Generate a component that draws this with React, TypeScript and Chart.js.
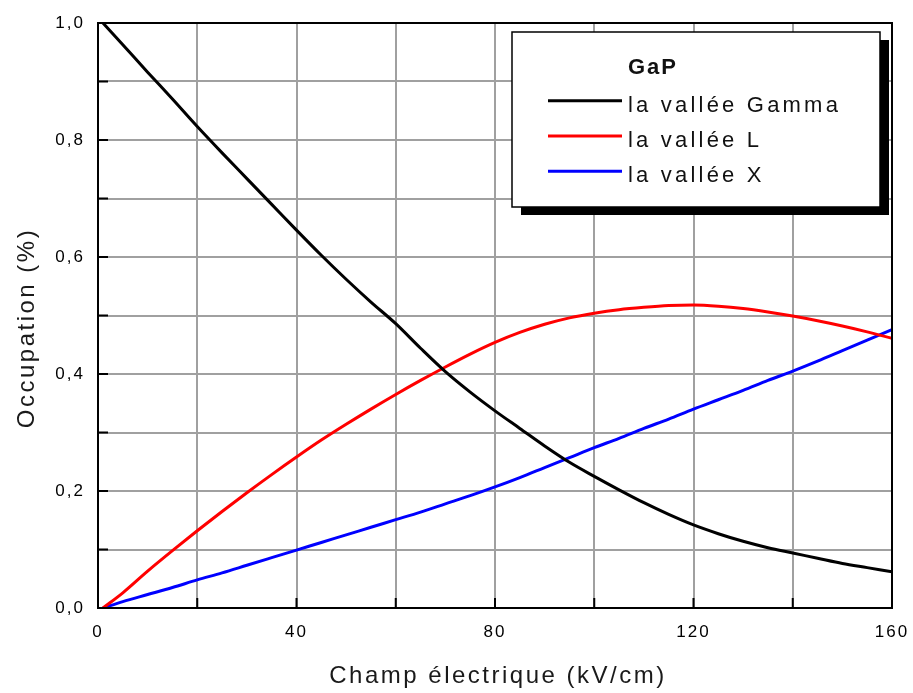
import React, { useEffect, useRef } from 'react';
import { Chart, registerables } from 'chart.js';

Chart.register(...registerables);

// ---- data ----
const fieldKV = [1, 5, 10, 15, 20, 25, 30, 35, 40, 45, 50, 55, 60, 65, 70, 75, 80, 85, 90, 95, 100, 105, 110, 115, 120, 125, 130, 135, 140, 145, 150, 155, 160];
const gammaValley = [1.0, 0.963, 0.916, 0.87, 0.823, 0.778, 0.734, 0.69, 0.646, 0.603, 0.562, 0.523, 0.486, 0.444, 0.404, 0.369, 0.337, 0.307, 0.277, 0.249, 0.225, 0.202, 0.18, 0.16, 0.142, 0.127, 0.114, 0.103, 0.094, 0.085, 0.076, 0.069, 0.062];
const lValley = [0, 0.026, 0.063, 0.098, 0.132, 0.165, 0.197, 0.228, 0.258, 0.287, 0.314, 0.34, 0.365, 0.389, 0.412, 0.434, 0.454, 0.471, 0.485, 0.496, 0.504, 0.51, 0.514, 0.517, 0.518, 0.516, 0.512, 0.506, 0.499, 0.491, 0.482, 0.472, 0.461];
const xValley = [0, 0.011, 0.023, 0.035, 0.048, 0.06, 0.073, 0.086, 0.099, 0.112, 0.125, 0.138, 0.151, 0.164, 0.178, 0.192, 0.207, 0.223, 0.24, 0.257, 0.274, 0.29, 0.307, 0.323, 0.34, 0.356, 0.372, 0.389, 0.405, 0.422, 0.44, 0.458, 0.476];

const seriesNames = ['la vallée Gamma', 'la vallée L', 'la vallée X'];
const seriesColors = ['#000000', '#ff0000', '#0000ff'];
const legendTitle = 'GaP';
const xTitle = 'Champ électrique (kV/cm)';
const yTitle = 'Occupation (%)';
const xLabelValues = [0, 40, 80, 120, 160];
const yLabelValues = [0, 0.2, 0.4, 0.6, 0.8, 1.0];

const FONT = '"Liberation Sans", Arial, sans-serif';

const decorPlugin = {
  id: 'decor',
  beforeDraw(chart: any) {
    const ctx = chart.ctx;
    ctx.save();
    ctx.fillStyle = '#ffffff';
    ctx.fillRect(0, 0, chart.width, chart.height);
    ctx.restore();
    (ctx as any).letterSpacing = '2px';
  },
  afterDatasetsDraw(chart: any) {
    const ctx = chart.ctx;
    const { left, right, top, bottom } = chart.chartArea;
    const xs = chart.scales.x;
    const ys = chart.scales.y;
    ctx.save();
    ctx.strokeStyle = '#000';
    ctx.lineWidth = 2;
    ctx.strokeRect(left, top, right - left, bottom - top);
    ctx.beginPath();
    for (let i = 1; i < 10; i++) {
      const y = ys.getPixelForValue(i / 10);
      ctx.moveTo(left, y);
      ctx.lineTo(left + 10, y);
    }
    for (let v = 20; v < 160; v += 20) {
      const x = xs.getPixelForValue(v);
      ctx.moveTo(x, bottom);
      ctx.lineTo(x, bottom - 10);
    }
    ctx.stroke();
    ctx.restore();
  },
  afterDraw(chart: any) {
    const ctx = chart.ctx;
    ctx.save();
    // axis titles
    ctx.fillStyle = '#1a1a1a';
    ctx.font = `24px ${FONT}`;
    (ctx as any).letterSpacing = '2.5px';
    ctx.textAlign = 'center';
    ctx.textBaseline = 'alphabetic';
    ctx.fillText(xTitle, 498, 683);
    ctx.save();
    ctx.translate(34, 328);
    ctx.rotate(-Math.PI / 2);
    ctx.fillText(yTitle, 0, 0);
    ctx.restore();

    // legend box with shadow
    const bx = 512, by = 32, bw = 368, bh = 175;
    ctx.fillStyle = '#000';
    ctx.fillRect(bx + 9, by + 8, bw, bh);
    ctx.fillStyle = '#fff';
    ctx.fillRect(bx, by, bw, bh);
    ctx.strokeStyle = '#000';
    ctx.lineWidth = 1.5;
    ctx.strokeRect(bx, by, bw, bh);

    ctx.textAlign = 'left';
    ctx.fillStyle = '#111';
    ctx.font = `bold 22px ${FONT}`;
    (ctx as any).letterSpacing = '2px';
    ctx.fillText(legendTitle, 628, 74);

    ctx.font = `22px ${FONT}`;
    (ctx as any).letterSpacing = '3.2px';
    seriesNames.forEach((name, i) => {
      const ly = 100.7 + i * 35.3;
      ctx.strokeStyle = seriesColors[i];
      ctx.lineWidth = 3;
      ctx.beginPath();
      ctx.moveTo(548, ly);
      ctx.lineTo(622, ly);
      ctx.stroke();
      ctx.fillStyle = '#111';
      ctx.fillText(name, 628, ly + 11);
    });
    ctx.restore();
  },
};

export default function App() {
  const ref = useRef<HTMLCanvasElement>(null);
  useEffect(() => {
    if (!ref.current) return;
    const mk = (vals: number[]) => fieldKV.map((x, i) => ({ x, y: vals[i] }));
    const series = [gammaValley, lValley, xValley];
    const chart = new Chart(ref.current, {
      type: 'line',
      data: {
        datasets: series.map((vals, i) => ({
          label: seriesNames[i],
          data: mk(vals),
          borderColor: seriesColors[i],
          backgroundColor: seriesColors[i],
          borderWidth: 3,
          pointRadius: 0,
          cubicInterpolationMode: 'monotone' as const,
          fill: false,
        })),
      },
      options: {
        responsive: false,
        animation: false,
        layout: { padding: { left: 0, right: 21, top: 23, bottom: 0 } },
        plugins: { legend: { display: false }, tooltip: { enabled: false }, title: { display: false } },
        scales: {
          x: {
            type: 'linear',
            min: 0,
            max: 160,
            border: { display: false },
            grid: { color: '#a0a0a0', lineWidth: 2, drawTicks: false },
            ticks: {
              stepSize: 20,
              autoSkip: false,
              maxRotation: 0,
              padding: 14,
              color: '#000',
              font: { family: FONT, size: 17 },
              callback: (v: any) => (xLabelValues.includes(Number(v)) ? String(v) : ''),
            },
            afterFit: (s: any) => { s.height = 85; s.paddingLeft = 0; s.paddingRight = 0; },
          },
          y: {
            type: 'linear',
            min: 0,
            max: 1,
            border: { display: false },
            grid: { color: '#a0a0a0', lineWidth: 2, drawTicks: false },
            ticks: {
              stepSize: 0.1,
              autoSkip: false,
              padding: 13,
              color: '#000',
              font: { family: FONT, size: 17 },
              callback: (v: any) => {
                const n = Math.round(Number(v) * 10) / 10;
                return yLabelValues.some((y) => Math.abs(y - n) < 1e-6) ? n.toFixed(1).replace('.', ',') : '';
              },
            },
            afterFit: (s: any) => { s.width = 98; s.paddingTop = 0; s.paddingBottom = 0; },
          },
        },
      },
      plugins: [decorPlugin],
    });
    return () => chart.destroy();
  }, []);
  return (
    <div style={{ position: 'fixed', left: 0, top: 0, width: 913, height: 693, background: '#fff' }}>
      <canvas ref={ref} width={913} height={693} style={{ display: 'block', width: 913, height: 693 }} />
    </div>
  );
}
